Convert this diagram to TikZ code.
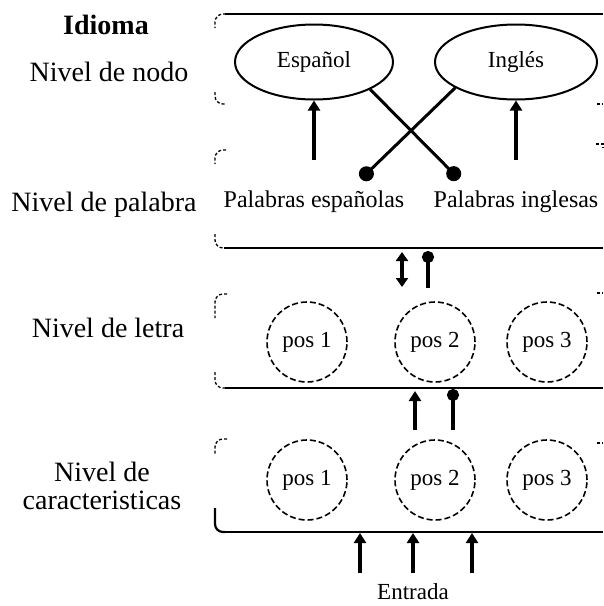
\documentclass[tikz,border=0pt]{standalone}
\usepackage{fontspec}
\setmainfont{Liberation Serif}
\usetikzlibrary{shapes.geometric,arrows.meta}
\begin{document}
\begin{tikzpicture}[x=1pt,y=-1pt,
  lvl/.style={font=\fontsize{28}{28}\selectfont, align=center, inner sep=0pt},
  lbl/.style={font=\fontsize{24}{26}\selectfont, inner sep=0pt},
  lang/.style={ellipse, draw, line width=2pt, minimum width=158pt, minimum height=75pt,
    inner sep=0pt, font=\fontsize{23}{26}\selectfont},
  unit/.style={circle, draw, line width=1.6pt, dash pattern=on 6pt off 3pt,
    minimum size=80pt, inner sep=0pt, font=\fontsize{23}{26}\selectfont},
  edge/.style={line width=2.2pt},
  faint/.style={line width=1.3pt, dash pattern=on 3pt off 2pt},
  up/.style={line width=3.4pt, -{Triangle[length=10pt,width=12pt]}},
  both/.style={line width=3.4pt, {Triangle[length=9pt,width=12pt]}-{Triangle[length=9pt,width=12pt]}},
  inh/.style={line width=3pt, -{Circle[length=15pt]}},
  inhs/.style={line width=3.2pt, -{Circle[length=12pt]}},
]
\useasboundingbox (0,0) rectangle (604,606);

% ---- layer outlines: solid long edges, broken corners ----
% node level
\draw[edge] (225,14) -- (603,14);
\draw[faint, rounded corners=8pt] (226,14) -- (215,14) -- (215,28);
\draw[faint, rounded corners=8pt] (215,92) -- (215,104) -- (226,104);
\draw[faint] (597,104) -- (603,104);
% word level
\draw[edge] (224,248) -- (603,248);
\draw[faint, rounded corners=8pt] (226,150) -- (215,150) -- (215,164);
\draw[faint, rounded corners=8pt] (215,234) -- (215,248) -- (224,248);
\draw[faint] (596,144) -- (603,144) -- (603,148);
% letter level
\draw[edge] (225,388) -- (603,388);
\draw[faint, rounded corners=8pt] (227,294) -- (215,294) -- (215,318);
\draw[faint, rounded corners=8pt] (215,372) -- (215,388) -- (225,388);
\draw[faint] (597,293) -- (603,293);
% feature level
\draw[edge] (225,532) -- (603,532);
\draw[faint, rounded corners=8pt] (227,439) -- (215,439) -- (215,455);
\draw[edge, rounded corners=8pt] (215,508) -- (215,532) -- (225,532);
\draw[faint] (597,443) -- (603,443);

% ---- level names ----
\node[lvl, font=\fontsize{28}{28}\selectfont\bfseries] (tIdioma) at (106,25) {Idioma};
\node[lvl] (tNodo) at (109,72) {Nivel de nodo};
\node[lvl] (tPalabra) at (104,205) {Nivel de palabra};
\node[lvl] (tLetra) at (108,328) {Nivel de letra};
\node[lvl] (tRasgo) at (102,486) {Nivel de\\caracteristicas};

% ---- language nodes ----
\node[lang] (es) at (314,62) {Español};
\node[lang, minimum width=162pt] (en) at (516,62) {Inglés};

% ---- word level ----
\node[lbl] (wes) at (314,202) {Palabras españolas};
\node[lbl] (wen) at (516,202) {Palabras inglesas};

\coordinate (esIn) at (314,160);
\coordinate (enIn) at (516,160);
\coordinate (esDot) at (459,179);
\coordinate (enDot) at (361,179);
\draw[up] (esIn) -- (es.south);
\draw[up] (enIn) -- (en.south);
\draw[inh] (es.-26) -- (esDot);
\draw[inh] (en.203) -- (enDot);

% ---- word <-> letter ----
\coordinate (wlA) at (402,252);
\coordinate (wlB) at (402,287);
\coordinate (wlC) at (428,288);
\coordinate (wlD) at (428,251);
\draw[both] (wlA) -- (wlB);
\draw[inhs] (wlC) -- (wlD);

% ---- letter level ----
\node[unit] (l1) at (307,342) {pos 1};
\node[unit] (l2) at (435,342) {pos 2};
\node[unit] (l3) at (547,342) {pos 3};

% ---- letter <- feature ----
\coordinate (lfA) at (415,430);
\coordinate (lfB) at (415,391);
\coordinate (lfC) at (453,430);
\coordinate (lfD) at (453,389);
\draw[up] (lfA) -- (lfB);
\draw[inhs] (lfC) -- (lfD);

% ---- feature level ----
\node[unit] (f1) at (307,480) {pos 1};
\node[unit] (f2) at (435,480) {pos 2};
\node[unit] (f3) at (547,480) {pos 3};

% ---- input ----
\node[lbl, font=\fontsize{23}{26}\selectfont] (entrada) at (413,592) {Entrada};
\coordinate (in1) at (360,573);
\coordinate (in2) at (413,573);
\coordinate (in3) at (472,573);
\coordinate (out1) at (360,533);
\coordinate (out2) at (413,533);
\coordinate (out3) at (472,533);
\draw[up] (in1) -- (out1);
\draw[up] (in2) -- (out2);
\draw[up] (in3) -- (out3);
\end{tikzpicture}
\end{document}
